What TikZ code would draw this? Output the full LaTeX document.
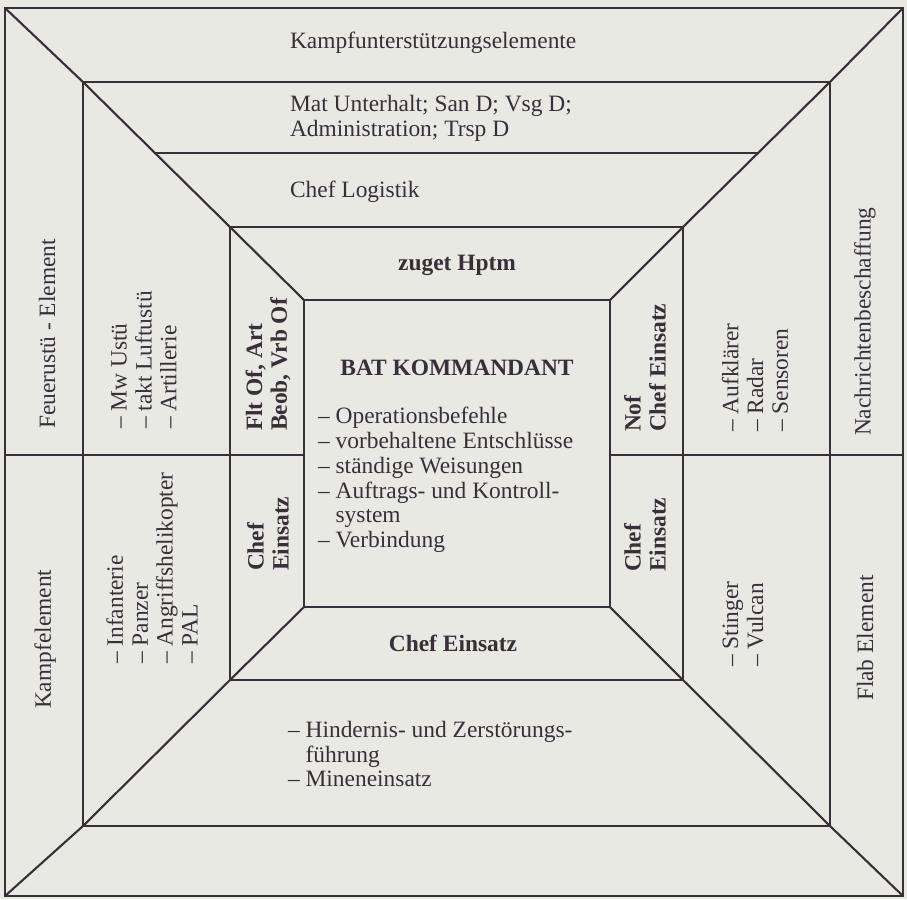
\documentclass[tikz,border=0pt]{standalone}
\usepackage{fontspec}
\setmainfont{Liberation Serif}
\definecolor{paper}{RGB}{233,233,228}
\definecolor{ink}{RGB}{55,48,55}
\tikzset{
  lbl/.style={inner sep=0pt,align=left,font=\fontsize{10}{10.6}\selectfont},
  bold/.style={font=\fontsize{10}{10.6}\selectfont\bfseries},
  up/.style={rotate=90,anchor=west}
}

\begin{document}
\begin{tikzpicture}[x=0.015cm,y=-0.015cm,line width=0.9pt,color=ink]
    \fill[paper] (0,0) rectangle (907,899);
    \def\rs{o/5/8/903/896,r/83/82/830/826,m/230/227/683/680,i/304/300/610/607}
    %        outer          ring           middle          inner
    \foreach \nm/\xa/\ya/\xb/\yb in \rs {
      \coordinate (\nm1) at (\xa,\ya); \coordinate (\nm2) at (\xb,\ya);
      \coordinate (\nm3) at (\xb,\yb); \coordinate (\nm4) at (\xa,\yb);
      \draw (\nm1) rectangle (\nm3);}
    \foreach \k in {1,...,4} {\draw (o\k)--(r\k)--(m\k)--(i\k);}
    \coordinate (dv) at (0,455);
    \coordinate (ml) at (0,153); \coordinate (mr) at (907,153);
    \draw (o1|-dv)--(i1|-dv);
    \draw (i2|-dv)--(o2|-dv);
    \draw (intersection of r1--m1 and ml--mr)--(intersection of r2--m2 and ml--mr);
    % top and bottom
    \node[lbl,anchor=west] (kse) at (289,43) {Kampfunterstützungselemente};
    \node[lbl,anchor=west] (mat) at (289,118) {Mat Unterhalt; San D; Vsg D;\\Administration; Trsp D};
    \node[lbl,anchor=west] (log) at (289,192) {Chef Logistik};
    \node[lbl,bold] (hptm) at (457,265) {zuget Hptm};
    \node[lbl,bold] (kdt) at (457,368) {BAT KOMMANDANT};
    \node[lbl,anchor=west] (bef) at (317,480) {– Operationsbefehle\\– vorbehaltene Entschlüsse\\– ständige Weisungen\\
      – Auftrags- und Kontroll-\\\phantom{– }system\\– Verbindung};
    \node[lbl,bold] (ce) at (453,643) {Chef Einsatz};
    \node[lbl,anchor=west] (hin) at (287,754) {– Hindernis- und Zerstörungs-\\\phantom{– }führung\\– Mineneinsatz};
    % left and right
    \node[lbl,up] (feu) at (47,430) {Feuerustü - Element};
    \node[lbl,up] (kmp) at (45,710) {Kampfelement};
    \node[lbl,up] (fst) at (144,430) {– Mw Ustü\\– takt Luftustü\\– Artillerie};
    \node[lbl,up] (inf) at (152,665) {– Infanterie\\– Panzer\\– Angriffshelikopter\\– PAL};
    \node[lbl,bold,up] (flt) at (268,432) {Flt Of, Art\\Beob, Vrb Of};
    \node[lbl,bold,up] (cel) at (268,572) {Chef\\Einsatz};
    \node[lbl,bold,up] (nof) at (645,433) {Nof\\Chef Einsatz};
    \node[lbl,bold,up] (cer) at (645,573) {Chef\\Einsatz};
    \node[lbl,up] (aufk) at (755,433) {– Aufklärer\\– Radar\\– Sensoren};
    \node[lbl,up] (stg) at (743,668) {– Stinger\\– Vulcan};
    \node[lbl,up] (nach) at (865,437) {Nachrichtenbeschaffung};
    \node[lbl,up] (flab) at (865,702) {Flab Element};
\end{tikzpicture}
\end{document}
